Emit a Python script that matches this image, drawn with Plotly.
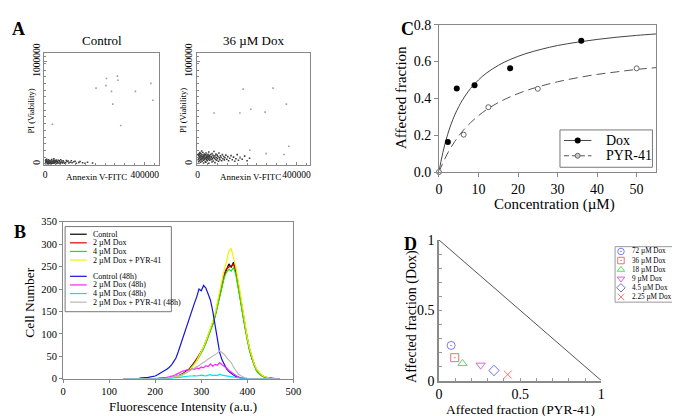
import plotly.graph_objects as go

FONT = "Liberation Serif"

# ---------------- Panel A data (thousands) ----------------
ctrl_clu_x = [2,4,6,8,10,12,3,5,7,9,11,14,15,16,18,20,22,24,25,27,28,30,32,34,36,38,40,42,45,47,50,52,55,58,60,63,66,70,74,78,82,88,95,100,108,115,125,135,150,160,1,3,6,13,19,26,35,44,1,2,5,8,11,13,17,21,23,29,31,33,37,41,49,56,62,68,72,85,92,105,120,140,170,190]
ctrl_clu_y = [5,12,3,18,8,25,22,30,9,14,2,10,20,4,15,6,12,28,3,18,9,14,22,5,11,30,8,17,25,4,12,35,8,20,2,14,27,9,18,5,12,22,8,15,10,20,6,14,10,6,35,40,45,38,33,42,48,36,1,15,8,27,17,4,29,20,1,25,7,35,19,26,19,30,40,13,30,32,28,30,25,22,15,8]
ctrl_sc_x = [246,290,292,244,204,266,424,362,432,271,29,303]
ctrl_sc_y = [834,858,818,765,740,709,787,709,621,584,387,375]

dox_clu_x = [2,3,4,5,6,7,8,9,10,11,12,13,14,15,16,17,18,19,20,21,22,23,24,25,26,27,28,29,30,31,32,33,34,35,36,37,38,39,40,41,42,43,44,45,46,47,48,49,50,52,54,55,57,58,60,62,63,65,66,68,70,72,74,75,77,79,80,82,84,86,88,90,92,95,97,100,102,105,108,110,114,118,122,125,130,135,140,145,150,155,160,165,172,180,190,200,210,4,9,16,24,33,45,58,70,1,6,12]
dox_clu_y = [40,62,85,50,72,95,30,58,80,45,66,100,38,75,55,88,25,68,48,110,60,82,35,70,52,95,42,78,62,20,88,55,105,40,72,60,85,30,65,50,92,75,45,115,58,80,35,68,52,90,40,72,60,100,48,82,28,65,120,55,78,42,95,62,35,85,50,70,25,105,58,40,78,62,30,90,50,72,38,60,85,45,70,30,55,80,40,65,25,50,90,35,60,45,75,30,55,20,110,125,8,15,5,18,12,90,100,15]
dox_sc_x = [184,305,66,171,215,273,359,369,211,277,349,171]
dox_sc_y = [731,740,497,497,534,506,584,172,132,100,91,63]

# ---------------- Panel B data ----------------
fl_x = list(range(130, 471, 5))
h_control = [0]*16 + [1,0,1,2,2,3,4,5, 6,9,11,15,18,23,29,35,43,51,
             60,70,83,96,108,122,140,163,188,210, 230,243,256,248,260,238,210,178,146,116,
             88,64,45,30,19,12,8,5,3,2, 1,1,0,0,0]
h_dox2 = [0]*16 + [0,1,1,1,2,3,3,5, 6,8,11,14,19,22,28,36,42,50,
          58,69,80,94,110,125,142,165,190,214, 234,246,250,252,255,242,214,182,150,118,
          90,66,46,31,20,13,8,5,3,2, 1,1,0,0,0]
h_dox4 = [0]*16 + [0,0,1,1,1,2,3,4, 5,7,9,12,16,20,26,33,40,48,
          57,67,79,92,106,121,138,160,186,208, 226,238,244,240,248,232,206,174,142,112,
          85,62,43,29,18,11,7,4,2,1, 1,0,0,0,0]
h_dox2_pyr = [0]*16 + [0,0,1,1,2,2,3,4, 5,7,9,12,16,20,25,32,40,50,
              60,71,84,98,112,128,146,170,196,222, 244,262,285,290,272,250,220,186,152,120,
              92,68,48,33,22,14,9,6,4,2, 1,1,1,0,0]
h_control48 = [0,0,1,0,1,1,1,1,2,2,2,3,4,5,6,9, 12,14,17,21,25,30,38,46,
               60,76,90,108,124,140,152,168,182,200, 196,208,202,190,175,150,118,85,58,42,
               30,22,16,11,8,5,3,2,1,0] + [0]*15
h_dox2_48 = [0]*14 + [1,1, 2,2,3,3,4,5,7,9, 12,14,17,18,20,19,22,21,24,22,
             26,24,29,27,33,28,32,30,36,31, 28,24,18,14,10,6,4,2,1,0] + [0]*15
h_dox4_48 = [0]*16 + [0,0,0,0,1,1,2,2, 3,3,4,5,5,6,6,7,6,7,
             8,7,6,8,9,7,8,7,10,8, 7,6,6,5,4,3,2,1,1,0] + [0]*15
h_dox2_pyr48 = [0]*16 + [0,0,1,1,2,3,4,5, 7,8,10,12,15,17,21,23,27,29,
                33,36,40,44,47,50,54,57,62,58, 54,47,42,36,26,18,11,7,4,2,
                1,0,0,0,0,0,0,0,0,0] + [0]*5
b_names = ["Control", "2 µM Dox", "4 µM Dox", "2 µM Dox + PYR-41",
           "Control (48h)", "2 µM Dox (48h)", "4 µM Dox (48h)", "2 µM Dox + PYR-41 (48h)"]
b_series = [h_control, h_dox2, h_dox4, h_dox2_pyr, h_control48, h_dox2_48, h_dox4_48, h_dox2_pyr48]
b_colors = ["#000000", "#e00000", "#22dd22", "#f2f200", "#1414e0", "#ff22ff", "#00e0ff", "#b8b8b8"]

# ---------------- Panel C data ----------------
dox_conc = [2.25, 4.5, 9, 18, 36]
dox_fa = [0.163, 0.454, 0.471, 0.563, 0.713]
pyr_conc = [0, 6.25, 12.5, 25, 50]
pyr_fa = [0.0, 0.203, 0.352, 0.452, 0.563]
fit_x = [0, 0.5, 1, 1.5, 2, 3, 4, 5, 6, 8, 10, 12, 15, 18, 22, 26, 30, 35, 40, 45, 50, 55]
dox_fit = [0, 0.057, 0.107, 0.151, 0.190, 0.256, 0.310, 0.355, 0.393, 0.454, 0.500, 0.537,
           0.579, 0.611, 0.643, 0.667, 0.687, 0.705, 0.720, 0.732, 0.742, 0.750]
pyr_fit = [0, 0.026, 0.050, 0.072, 0.094, 0.132, 0.166, 0.196, 0.223, 0.268, 0.306, 0.338,
           0.377, 0.408, 0.442, 0.468, 0.490, 0.512, 0.530, 0.544, 0.557, 0.567]

# ---------------- Panel D data ----------------
d_labels = ["72 µM Dox", "36 µM Dox", "18 µM Dox", "9 µM Dox", "4.5 µM Dox", "2.25 µM Dox"]
d_pyr = [0.075, 0.097, 0.145, 0.257, 0.339, 0.424]
d_dox = [0.250, 0.163, 0.122, 0.110, 0.072, 0.043]
d_symbols = ["circle-open-dot", "square-open-dot", "triangle-up-open", "triangle-down-open", "diamond-open", "x-thin-open"]
d_colors = ["#5a5ae6", "#e05050", "#38cc38", "#d838d8", "#4848d8", "#f05050"]
diag_x = [0, 1]
diag_y = [1, 0]

W, H = 680, 416
def fx(p): return p / W
def fy(p): return 1 - p / H
def dom_x(a, b): return [fx(a), fx(b)]
def dom_y(top, bot): return [fy(bot), fy(top)]

fig = go.Figure()

# Panel A
k = 1000
fig.add_trace(go.Scatter(x=[v*k for v in ctrl_clu_x], y=[v*k for v in ctrl_clu_y], mode="markers",
                         marker=dict(size=1.6, color="#404040", symbol="square"), xaxis="x", yaxis="y"))
fig.add_trace(go.Scatter(x=[v*k for v in ctrl_sc_x], y=[v*k for v in ctrl_sc_y], mode="markers",
                         marker=dict(size=1.6, color="#a0a0a0", symbol="square"), xaxis="x", yaxis="y"))
fig.add_trace(go.Scatter(x=[v*k for v in dox_clu_x], y=[v*k for v in dox_clu_y], mode="markers",
                         marker=dict(size=1.6, color="#404040", symbol="square"), xaxis="x2", yaxis="y2"))
fig.add_trace(go.Scatter(x=[v*k for v in dox_sc_x], y=[v*k for v in dox_sc_y], mode="markers",
                         marker=dict(size=1.6, color="#a0a0a0", symbol="square"), xaxis="x2", yaxis="y2"))

# Panel B
for s, c in zip(b_series, b_colors):
    fig.add_trace(go.Scatter(x=fl_x, y=s, mode="lines", line=dict(color=c, width=1.2),
                             xaxis="x3", yaxis="y3"))

# Panel C
fig.add_trace(go.Scatter(x=fit_x, y=dox_fit, mode="lines", line=dict(color="#444", width=1),
                         line_shape="spline", xaxis="x4", yaxis="y4"))
fig.add_trace(go.Scatter(x=fit_x, y=pyr_fit, mode="lines", line=dict(color="#555", width=1, dash="9px,5px"),
                         line_shape="spline", xaxis="x4", yaxis="y4"))
fig.add_trace(go.Scatter(x=dox_conc, y=dox_fa, mode="markers", cliponaxis=False,
                         marker=dict(size=6, color="black"), xaxis="x4", yaxis="y4"))
fig.add_trace(go.Scatter(x=pyr_conc, y=pyr_fa, mode="markers", cliponaxis=False,
                         marker=dict(size=5, color="white", line=dict(color="#666", width=1)), xaxis="x4", yaxis="y4"))

# Panel D
fig.add_trace(go.Scatter(x=diag_x, y=diag_y, mode="lines", line=dict(color="#555", width=1),
                         xaxis="x5", yaxis="y5", cliponaxis=False))
for xx, yy, sy, c in zip(d_pyr, d_dox, d_symbols, d_colors):
    fig.add_trace(go.Scatter(x=[xx], y=[yy], mode="markers", cliponaxis=False,
                             marker=dict(size=8, symbol=sy, color=c, line=dict(color=c, width=0.8)),
                             xaxis="x5", yaxis="y5"))

# Helper axis (pixel coordinates) for legend markers
fig.add_trace(go.Scatter(x=[576], y=[128], mode="markers", marker=dict(size=6, color="black"),
                         xaxis="x6", yaxis="y6", cliponaxis=False))
fig.add_trace(go.Scatter(x=[576], y=[144], mode="markers",
                         marker=dict(size=5, color="#c8c8c8", line=dict(color="#666", width=1)),
                         xaxis="x6", yaxis="y6", cliponaxis=False))
leg_d_y = [244, 253.5, 263, 272.5, 282, 291.5]
for yy, sy, c in zip(leg_d_y, d_symbols, d_colors):
    fig.add_trace(go.Scatter(x=[620], y=[yy], mode="markers",
                             marker=dict(size=6.5, symbol=sy, color=c, line=dict(color=c, width=0.8)),
                             xaxis="x6", yaxis="y6", cliponaxis=False))

axcol = "#888"
lay = dict(
    width=W, height=H, margin=dict(l=0, r=0, t=0, b=0), autosize=False,
    paper_bgcolor="white", plot_bgcolor="rgba(0,0,0,0)", showlegend=False,
    font=dict(family=FONT, color="black"),
)
# A axes
for i, (xa, xb) in enumerate([(34, 150), (189, 304)]):
    sfx = "" if i == 0 else "2"
    lay["xaxis" + sfx] = dict(domain=dom_x(xa, xb), anchor="y" + sfx, range=[-3000, 455000],
                              showgrid=False, zeroline=False, showline=True, mirror=True,
                              linecolor=axcol, linewidth=1, ticks="inside", ticklen=3, tickcolor=axcol,
                              tickvals=[0, 400000], ticktext=["0", "400000"],
                              tickfont=dict(family=FONT, size=9.5),
                              minor=dict(ticks="inside", dtick=40000, tick0=0, ticklen=2, tickcolor=axcol))
    lay["yaxis" + sfx] = dict(domain=dom_y(37, 154), anchor="x" + sfx, range=[-15000, 1080000],
                              showgrid=False, zeroline=False, showline=True, mirror=True,
                              linecolor=axcol, linewidth=1, ticks="inside", ticklen=3, tickcolor=axcol,
                              tickvals=[0, 1000000], ticktext=["0", "1000000"], tickangle=-90,
                              tickfont=dict(family=FONT, size=9.5),
                              minor=dict(ticks="inside", dtick=65536, tick0=0, ticklen=2, tickcolor=axcol))
# B axes
lay["xaxis3"] = dict(domain=dom_x(53, 287), anchor="y3", range=[0, 500], dtick=100,
                     showgrid=False, zeroline=False, showline=True, mirror=True, linecolor=axcol,
                     ticks="outside", ticklen=3, tickcolor=axcol, tickfont=dict(family=FONT, size=10.5))
lay["yaxis3"] = dict(domain=dom_y(213, 377), anchor="x3", range=[0, 350], dtick=50,
                     showgrid=False, zeroline=False, showline=True, mirror=True, linecolor=axcol,
                     ticks="outside", ticklen=3, tickcolor=axcol, tickfont=dict(family=FONT, size=10.5))
# C axes
lay["xaxis4"] = dict(domain=dom_x(435, 656), anchor="y4", range=[0, 55], dtick=10,
                     showgrid=False, zeroline=False, showline=True, mirror=True, linecolor=axcol,
                     ticks="outside", ticklen=4, tickcolor=axcol, tickfont=dict(family=FONT, size=14))
lay["yaxis4"] = dict(domain=dom_y(7, 161), anchor="x4", range=[0, 0.8], dtick=0.2, tickformat=".1f",
                     showgrid=False, zeroline=False, showline=True, mirror=True, linecolor=axcol,
                     ticks="outside", ticklen=4, tickcolor=axcol, tickfont=dict(family=FONT, size=14))
# D axes
lay["xaxis5"] = dict(domain=dom_x(435, 600), anchor="y5", range=[0, 1],
                     tickvals=[0, 0.5, 1], ticktext=["0", "0.5", "1"],
                     showgrid=False, zeroline=False, showline=True, linecolor="#8a8a8a", linewidth=1.5,
                     ticks="inside", ticklen=3, tickcolor="#999", tickfont=dict(family=FONT, size=14),
                     minor=dict(ticks="inside", dtick=0.1, ticklen=3, tickcolor="#999"))
lay["yaxis5"] = dict(domain=dom_y(232, 379), anchor="x5", range=[0, 1],
                     tickvals=[0, 0.5, 1], ticktext=["0", "0.5", "1"],
                     showgrid=False, zeroline=False, showline=True, linecolor="#8a8a8a", linewidth=1.5,
                     ticks="inside", ticklen=3, tickcolor="#999", tickfont=dict(family=FONT, size=14),
                     minor=dict(ticks="inside", dtick=0.1, ticklen=3, tickcolor="#999"))
# helper
lay["xaxis6"] = dict(domain=[0, 1], anchor="y6", range=[0, W], visible=False, fixedrange=True)
lay["yaxis6"] = dict(domain=[0, 1], anchor="x6", range=[H, 0], visible=False, fixedrange=True)

fig.update_layout(**lay)

ann = []
def text(x, y, s, size, angle=0, xanchor="center", bold=False):
    ann.append(dict(x=fx(x), y=fy(y), xref="paper", yref="paper", text=("<b>%s</b>" % s) if bold else s,
                    showarrow=False, textangle=angle, xanchor=xanchor, yanchor="middle",
                    font=dict(family=FONT, size=size, color="black")))

# panel letters
text(8, 12, "A", 18, bold=True)
text(9, 224, "B", 18, bold=True)
text(403, 12, "C", 18, bold=True)
text(406, 236, "D", 18, bold=True)
# A
text(92, 24, "Control", 13)
text(246, 24, "36 µM Dox", 13)
text(20, 97, "PI (Viability)", 8.5, angle=-90)
text(175, 97, "PI (Viability)", 8.5, angle=-90)
text(87, 166, "Annexin V-FITC", 9)
text(243, 166, "Annexin V-FITC", 9)
# B
text(18, 297, "Cell Number", 13.5, angle=-90)
text(175, 406, "Fluorescence Intensity (a.u.)", 13)
# C
text(397, 83, "Affected fraction", 15, angle=-90)
text(552, 195, "Concentration (µM)", 15)
# D
text(407, 312, "Affected fraction (Dox)", 14, angle=-90)
text(518, 409, "Affected fraction (PYR-41)", 13.5)

shapes = []
def rect(x0, y0, x1, y1, color="#777"):
    shapes.append(dict(type="rect", xref="paper", yref="paper", x0=fx(x0), x1=fx(x1), y0=fy(y1), y1=fy(y0),
                       line=dict(color=color, width=1), fillcolor="white", layer="below"))
def hline(x0, x1, y, color, dash="solid", width=1.2):
    shapes.append(dict(type="line", xref="paper", yref="paper", x0=fx(x0), x1=fx(x1), y0=fy(y), y1=fy(y),
                       line=dict(color=color, width=width, dash=dash), layer="below"))

# B legend
rect(55, 218, 163, 307)
leg_b_y = [226, 235, 244, 253, 270, 279, 288, 297]
for yy, nm, c in zip(leg_b_y, b_names, b_colors):
    hline(60, 77, yy, c)
    text(81, yy, nm, 8, xanchor="left")
# C legend
rect(558, 117, 652, 156)
hline(562, 590, 128, "#444", width=1)
hline(562, 590, 144, "#555", dash="5px,3px", width=1)
text(603, 128, "Dox", 14, xanchor="left")
text(603, 144, "PYR-41", 14, xanchor="left")
# D legend
rect(614, 239, 679, 297, color="#999")
for yy, nm in zip(leg_d_y, d_labels):
    text(629, yy, nm, 7.2, xanchor="left")

fig.update_layout(annotations=ann, shapes=shapes)
fig.write_html("out.html")
